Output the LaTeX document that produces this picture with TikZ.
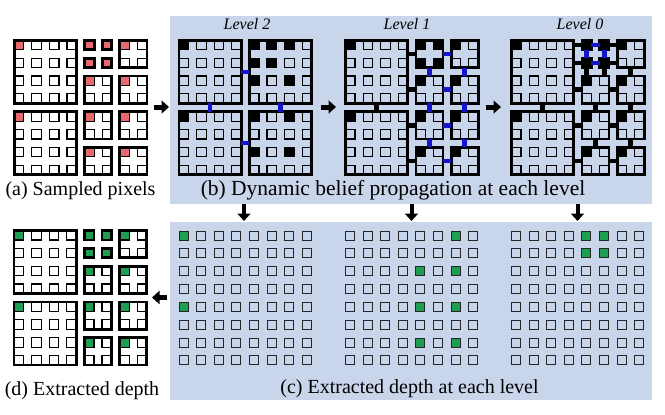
\documentclass[tikz,border=0pt]{standalone}
\usepackage{fontspec}
\setmainfont{Liberation Serif}
\usetikzlibrary{arrows.meta}
\definecolor{panelblue}{RGB}{201,213,235}
\definecolor{sred}{RGB}{232,104,112}
\definecolor{dgreen}{RGB}{30,158,80}
\definecolor{cblue}{RGB}{20,20,200}
\newcommand\PX{17.6}
\newcommand\PY{17.85}
\newcommand\SZ{9.5}
% pixel square: ox oy i j style
\newcommand\pixsq[5]{\draw[pix,#5] ({#1+(#3)*\PX},{#2+(#4)*\PY}) rectangle ++(\SZ,\SZ);}
% grid square of (c): ox oy i j style
\newcommand\gridsq[5]{\draw[gsq,#5] ({#1+(#3)*\PX},{#2+(#4)*\PY}) rectangle ++(9,9);}
% all 64 pixels
\newcommand\allpix[2]{\foreach \i in {0,...,7}{\foreach \j in {0,...,7}{\pixsq{#1}{#2}{\i}{\j}{}}}}
\newcommand\cgrid[2]{\foreach \i in {0,...,7}{\foreach \j in {0,...,7}{\gridsq{#1}{#2}{\i}{\j}{}}}}
% sampled pixels
\newcommand\samp[3]{\foreach \i/\j in {0/0,0/4,4/0,5/0,4/1,5/1,6/0,4/2,6/2,4/4,6/4,4/6,6/6}{\pixsq{#1}{#2}{\i}{\j}{#3}}}
% block node: name ox oy i j n style
\newcommand\blk[7]{%
  \pgfmathsetmacro\mybw{(#6-1)*\PX+\SZ}%
  \pgfmathsetmacro\mybh{(#6-1)*\PY+\SZ}%
  \pgfmathsetmacro\mybx{#2+(#4)*\PX+\mybw/2}%
  \pgfmathsetmacro\myby{#3+(#5)*\PY+\mybh/2}%
  \node[blk,#7,minimum width=\mybw pt,minimum height=\mybh pt] (#1) at (\mybx,\myby) {};}
% 2x2 blocks of the right half except the top-left one
\newcommand\rightquads[3]{%
  \blk{#1b60}{#2}{#3}{6}{0}{2}{}
  \blk{#1b42}{#2}{#3}{4}{2}{2}{}
  \blk{#1b62}{#2}{#3}{6}{2}{2}{}
  \blk{#1b44}{#2}{#3}{4}{4}{2}{}
  \blk{#1b64}{#2}{#3}{6}{4}{2}{}
  \blk{#1b46}{#2}{#3}{4}{6}{2}{}
  \blk{#1b66}{#2}{#3}{6}{6}{2}{}}
\newcommand\fineblocks[4]{%
  \blk{#1TL}{#2}{#3}{0}{0}{4}{}
  \blk{#1BL}{#2}{#3}{0}{4}{4}{}
  \blk{#1p40}{#2}{#3}{4}{0}{1}{#4}
  \blk{#1p50}{#2}{#3}{5}{0}{1}{#4}
  \blk{#1p41}{#2}{#3}{4}{1}{1}{#4}
  \blk{#1p51}{#2}{#3}{5}{1}{1}{#4}
  \rightquads{#1}{#2}{#3}}
% connectors: horizontal A left, B right, S smaller block
\newcommand\hc[4]{\draw[#4] (#1.east |- #3.center) -- (#2.west |- #3.center);}
% vertical A top, B bottom
\newcommand\vc[4]{\draw[#4] (#3.center |- #1.south) -- (#3.center |- #2.north);}
\begin{document}
\begin{tikzpicture}[x=1pt,y=-1pt,
  pix/.style={draw=black,line width=1.2pt},
  blk/.style={draw=black,line width=2.8pt,inner sep=0pt,outer sep=0pt,rectangle},
  conn/.style={line width=4.5pt,draw=black},
  bconn/.style={line width=4.5pt,draw=cblue},
  gsq/.style={draw=black!85,line width=1pt},
  panel/.style={fill=panelblue,draw=none,inner sep=0pt,outer sep=0pt,rectangle,anchor=north west},
  lab/.style={font=\fontsize{20}{24}\selectfont,inner sep=0pt,anchor=base},
  lvl/.style={font=\fontsize{16}{19}\selectfont\itshape,inner sep=0pt,anchor=base},
  bigarrow/.style={line width=5pt,-{Triangle[width=13pt,length=7.5pt]}}]
\useasboundingbox (0,0) rectangle (665,415);
\fill[white] (0,0) rectangle (665,415);
% panels
\node[panel,minimum width=482pt,minimum height=188pt] (pb) at (170,16) {};
\node[panel,minimum width=482pt,minimum height=178pt] (pc) at (170,222) {};
% ---------- (a) ----------
\allpix{14.25}{40.25}
\samp{14.25}{40.25}{fill=sred}
\fineblocks{a}{14.25}{40.25}{fill=sred}
% ---------- (d) ----------
\allpix{14}{230.5}
\samp{14}{230.5}{fill=dgreen}
\fineblocks{d}{14}{230.5}{fill=dgreen}
% ---------- Level 2 ----------
\allpix{179}{40.25}
\samp{179}{40.25}{fill=black}
\blk{LtTL}{179}{40.25}{0}{0}{4}{}
\blk{LtTR}{179}{40.25}{4}{0}{4}{}
\blk{LtBL}{179}{40.25}{0}{4}{4}{}
\blk{LtBR}{179}{40.25}{4}{4}{4}{}
\hc{LtTL}{LtTR}{LtTL}{bconn}
\hc{LtBL}{LtBR}{LtBL}{bconn}
\vc{LtTL}{LtBL}{LtTL}{bconn}
\vc{LtTR}{LtBR}{LtTR}{bconn}
% ---------- Level 1 ----------
\allpix{345.5}{40.25}
\samp{345.5}{40.25}{fill=black}
\blk{LoTL}{345.5}{40.25}{0}{0}{4}{}
\blk{LoBL}{345.5}{40.25}{0}{4}{4}{}
\blk{Lob40}{345.5}{40.25}{4}{0}{2}{}
\rightquads{Lo}{345.5}{40.25}
\vc{LoTL}{LoBL}{LoTL}{conn}
\hc{LoTL}{Lob40}{Lob40}{conn}
\hc{LoTL}{Lob42}{Lob42}{conn}
\hc{LoBL}{Lob44}{Lob44}{conn}
\hc{LoBL}{Lob46}{Lob46}{conn}
\hc{Lob40}{Lob60}{Lob40}{bconn}
\hc{Lob42}{Lob62}{Lob42}{bconn}
\hc{Lob44}{Lob64}{Lob44}{bconn}
\hc{Lob46}{Lob66}{Lob46}{bconn}
\vc{Lob40}{Lob42}{Lob40}{bconn}
\vc{Lob42}{Lob44}{Lob42}{bconn}
\vc{Lob44}{Lob46}{Lob44}{bconn}
\vc{Lob60}{Lob62}{Lob60}{bconn}
\vc{Lob62}{Lob64}{Lob62}{bconn}
\vc{Lob64}{Lob66}{Lob64}{bconn}
% ---------- Level 0 ----------
\allpix{511.5}{40.25}
\samp{511.5}{40.25}{fill=black}
\fineblocks{Lz}{511.5}{40.25}{fill=black}
\hc{LzTL}{Lzp40}{Lzp40}{conn}
\hc{LzTL}{Lzp41}{Lzp41}{conn}
\hc{LzTL}{Lzb42}{Lzb42}{conn}
\vc{LzTL}{LzBL}{LzTL}{conn}
\hc{LzBL}{Lzb44}{Lzb44}{conn}
\hc{LzBL}{Lzb46}{Lzb46}{conn}
\hc{Lzp50}{Lzb60}{Lzp50}{conn}
\hc{Lzp51}{Lzb60}{Lzp51}{conn}
\vc{Lzp41}{Lzb42}{Lzp41}{conn}
\vc{Lzp51}{Lzb42}{Lzp51}{conn}
\vc{Lzb60}{Lzb62}{Lzb60}{conn}
\hc{Lzb42}{Lzb62}{Lzb42}{conn}
\hc{Lzb44}{Lzb64}{Lzb44}{conn}
\hc{Lzb46}{Lzb66}{Lzb46}{conn}
\vc{Lzb42}{Lzb44}{Lzb42}{conn}
\vc{Lzb44}{Lzb46}{Lzb44}{conn}
\vc{Lzb62}{Lzb64}{Lzb62}{conn}
\vc{Lzb64}{Lzb66}{Lzb64}{conn}
\hc{Lzp40}{Lzp50}{Lzp40}{bconn}
\hc{Lzp41}{Lzp51}{Lzp41}{bconn}
\vc{Lzp40}{Lzp41}{Lzp40}{bconn}
\vc{Lzp50}{Lzp51}{Lzp50}{bconn}
% ---------- (c) grids ----------
\cgrid{179}{231}
\cgrid{345.5}{231}
\cgrid{511.5}{231}
\foreach \i/\j in {0/0,0/4}{\gridsq{179}{231}{\i}{\j}{fill=dgreen}}
\foreach \i/\j in {6/0,4/2,6/2,4/4,6/4,4/6,6/6}{\gridsq{345.5}{231}{\i}{\j}{fill=dgreen}}
\foreach \i/\j in {4/0,5/0,4/1,5/1}{\gridsq{511.5}{231}{\i}{\j}{fill=dgreen}}
% ---------- labels ----------
\node[lvl] (l2) at (247,29) {Level 2};
\node[lvl] (l1) at (407,29) {Level 1};
\node[lvl] (l0) at (580,29) {Level 0};
\node[lab] (la) at (80.5,195.5) {(a) Sampled pixels};
\node[lab,font=\fontsize{21.5}{25}\selectfont] (lb) at (393,195.5) {(b) Dynamic belief propagation at each level};
\node[lab] (lc) at (409.5,393) {(c) Extracted depth at each level};
\node[lab] (ld) at (82,395) {(d) Extracted depth};
% ---------- arrows ----------
\coordinate (r1s) at (154,107); \coordinate (r1e) at (169,107);
\coordinate (r2s) at (321,107); \coordinate (r2e) at (336,107);
\coordinate (r3s) at (486,107); \coordinate (r3e) at (501,107);
\coordinate (d2s) at (244,204); \coordinate (d2e) at (244,221);
\coordinate (d1s) at (411.5,204); \coordinate (d1e) at (411.5,221);
\coordinate (d0s) at (577.5,204); \coordinate (d0e) at (577.5,221);
\coordinate (lfs) at (167,297.5); \coordinate (lfe) at (152,297.5);
\draw[bigarrow] (r1s) -- (r1e);
\draw[bigarrow] (r2s) -- (r2e);
\draw[bigarrow] (r3s) -- (r3e);
\draw[bigarrow,line width=4pt] (d2s) -- (d2e);
\draw[bigarrow,line width=4pt] (d1s) -- (d1e);
\draw[bigarrow,line width=4pt] (d0s) -- (d0e);
\draw[bigarrow] (lfs) -- (lfe);
\end{tikzpicture}
\end{document}
